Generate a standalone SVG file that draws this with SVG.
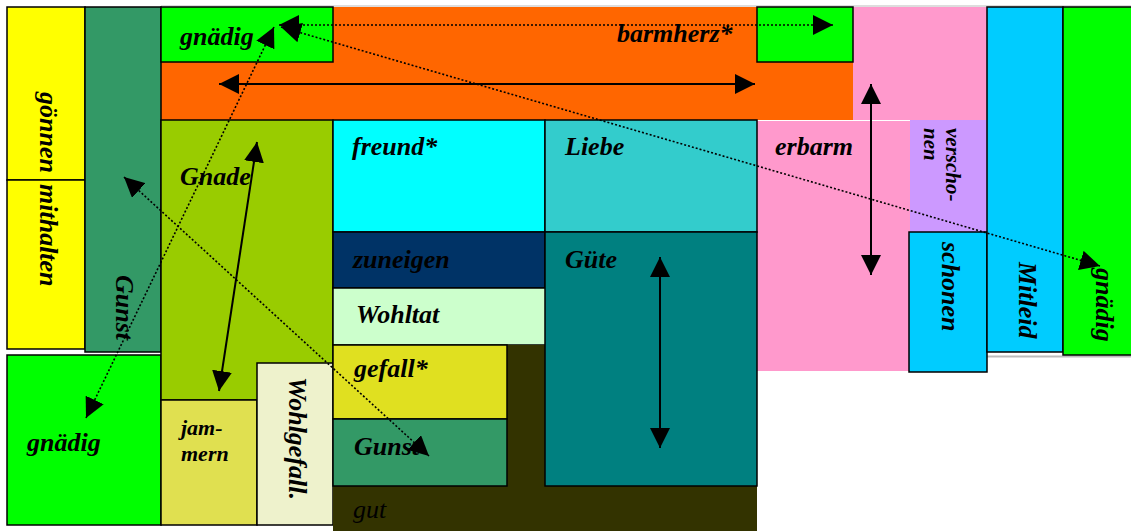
<svg xmlns="http://www.w3.org/2000/svg" width="1131" height="531" viewBox="0 0 1131 531">
<defs>
<marker id="ah" markerUnits="userSpaceOnUse" markerWidth="20" markerHeight="20" viewBox="0 0 20 20" refX="20" refY="10" orient="auto-start-reverse">
<path d="M0,0 L20,10 L0,20 Z" fill="#000"/>
</marker>
<style>
.b{stroke:#000;stroke-width:1.5}
.t{font-family:"Liberation Serif","Times New Roman",serif;font-weight:bold;font-style:italic;font-size:26px;fill:#000}
.s{font-size:21px}
.j{font-size:22px}
.r{font-weight:normal}
.sol{stroke:#000;stroke-width:2;fill:none;marker-start:url(#ah);marker-end:url(#ah)}
.dot{stroke:#000;stroke-width:1.6;stroke-dasharray:2 2;fill:none;marker-start:url(#ah);marker-end:url(#ah)}
</style>
</defs>
<rect width="1131" height="531" fill="#fff"/>
<line x1="161" y1="6" x2="1131" y2="6" stroke="#bbb" stroke-width="1"/>
<line x1="987" y1="356.5" x2="1131" y2="356.5" stroke="#bbb" stroke-width="2"/>

<g id="orange">
<rect x="333" y="7" width="424" height="55" fill="#FF6600"/>
<rect x="161" y="62" width="692" height="58" fill="#FF6600"/>
<text class="t" x="617" y="42">barmherz*</text>
</g>
<g id="pink">
<rect x="853" y="7" width="135" height="113" fill="#FF99CC"/>
<rect x="757" y="121" width="153" height="250" fill="#FF99CC"/>
<text class="t" x="775" y="155">erbarm</text>
</g>
<g id="verschonen">
<rect x="910" y="120" width="77" height="112" fill="#CC99FF"/>
<text class="t s" transform="translate(946,128) rotate(90)"><tspan x="0" y="0">verscho-</tspan><tspan x="0" y="22">nen</tspan></text>
</g>
<g id="goennen">
<rect class="b" x="7" y="7" width="78" height="173" fill="#FFFF00"/>
<text class="t" transform="translate(40,92) rotate(90)">gönnen</text>
</g>
<g id="mithalten">
<rect class="b" x="7" y="180" width="78" height="169" fill="#FFFF00"/>
<text class="t" transform="translate(40,184) rotate(90)">mithalten</text>
</g>
<g id="gunst1">
<rect class="b" x="85" y="7" width="76" height="345" fill="#339966"/>
<text class="t" transform="translate(116,275) rotate(90)">Gunst</text>
</g>
<g id="gnaedig1">
<rect class="b" x="7" y="355" width="154" height="170" fill="#00FF00"/>
<text class="t" x="27" y="451">gnädig</text>
</g>
<g id="gnade">
<rect class="b" x="161" y="120" width="172" height="280" fill="#99CC00"/>
<text class="t" x="180" y="185">Gnade</text>
</g>
<g id="jammern">
<rect class="b" x="161" y="400" width="96" height="125" fill="#E0E050"/>
<text class="t j" x="181" y="435">jam-</text>
<text class="t j" x="181" y="461">mern</text>
</g>
<g id="wohlgefall">
<rect class="b" x="257" y="363" width="76" height="162" fill="#EEF2CC"/>
<text class="t" transform="translate(289,377) rotate(90)">Wohlgefall.</text>
</g>
<g id="gnaedig2">
<rect class="b" x="161" y="7" width="172" height="55" fill="#00FF00"/>
<text class="t" x="180" y="45">gnädig</text>
</g>
<g id="green2">
<rect class="b" x="757" y="7" width="96" height="55" fill="#00FF00"/>
</g>
<g id="freund">
<rect class="b" x="333" y="120" width="212" height="112" fill="#00FFFF"/>
<text class="t" x="352" y="155">freund*</text>
</g>
<g id="liebe">
<rect class="b" x="545" y="120" width="212" height="112" fill="#33CCCC"/>
<text class="t" x="565" y="155">Liebe</text>
</g>
<g id="zuneigen">
<rect class="b" x="333" y="232" width="212" height="56" fill="#003366"/>
<text class="t" x="353" y="268">zuneigen</text>
</g>
<g id="wohltat">
<rect class="b" x="333" y="288" width="213" height="57" fill="#CCFFCC"/>
<text class="t" x="356" y="323">Wohltat</text>
</g>
<g id="gut">
<rect x="333" y="345" width="424" height="186" fill="#333300"/>
<text class="t r" x="353" y="518">gut</text>
</g>
<g id="gefall">
<rect class="b" x="333" y="345" width="174" height="74" fill="#E0E020"/>
<text class="t" x="354" y="377">gefall*</text>
</g>
<g id="gunst2">
<rect class="b" x="333" y="419" width="174" height="67" fill="#339966"/>
<text class="t" x="354" y="455">Gunst</text>
</g>
<g id="guete">
<rect class="b" x="545" y="232" width="212" height="254" fill="#008080"/>
<text class="t" x="565" y="268">Güte</text>
</g>
<g id="schonen">
<rect class="b" x="909" y="232" width="78" height="140" fill="#00CCFF"/>
<text class="t" transform="translate(942,242) rotate(90)">schonen</text>
</g>
<g id="mitleid">
<rect class="b" x="987" y="7" width="76" height="345" fill="#00CCFF"/>
<text class="t" transform="translate(1019,262) rotate(90)">Mitleid</text>
</g>
<g id="gnaedig3">
<rect class="b" x="1063" y="7" width="70" height="348" fill="#00FF00"/>
<text class="t" transform="translate(1096,268) rotate(90)">gnädig</text>
</g>

<g id="connectors">
<line class="sol" x1="219" y1="84" x2="755" y2="84"/>
<line class="sol" x1="257" y1="142" x2="219" y2="391"/>
<line class="sol" x1="660" y1="257" x2="660" y2="448"/>
<line class="sol" x1="871" y1="84" x2="871" y2="275"/>
<line class="dot" x1="86" y1="418" x2="274" y2="27"/>
<line class="dot" x1="279" y1="25" x2="833" y2="25"/>
<line class="dot" x1="281" y1="27" x2="1100" y2="266"/>
<line class="dot" x1="124" y1="177" x2="429" y2="456"/>
</g>
</svg>
